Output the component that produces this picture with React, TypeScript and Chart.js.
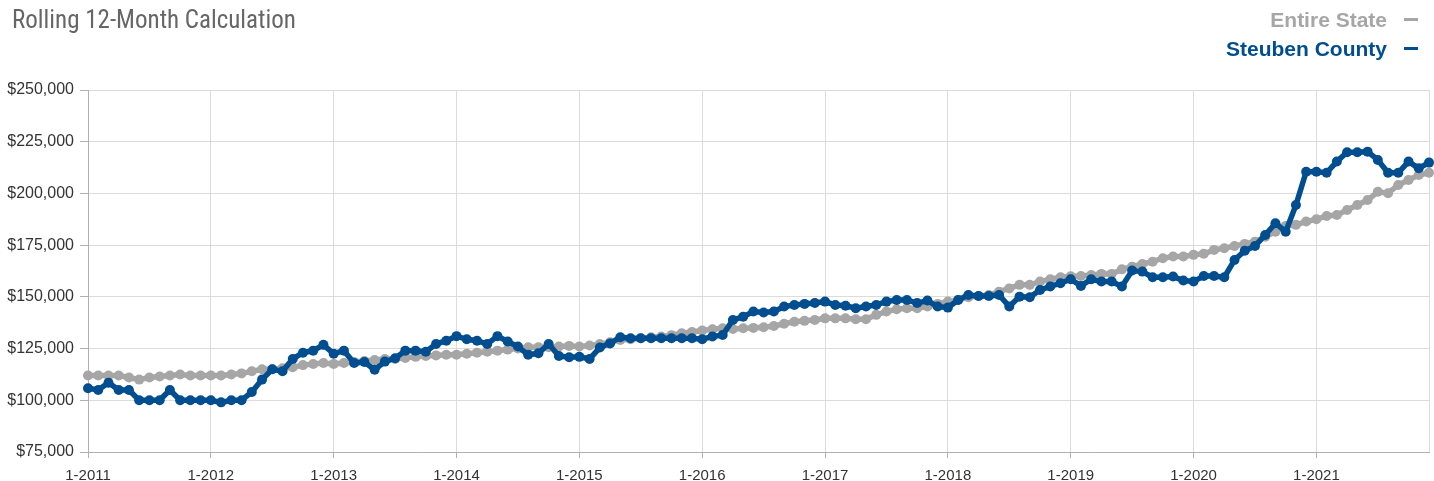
import React, { useEffect, useRef } from "react";
import { Chart, registerables } from "chart.js";

Chart.register(...registerables);

// ---- data ----
const YEARS = [2011, 2012, 2013, 2014, 2015, 2016, 2017, 2018, 2019, 2020, 2021];
const MONTHS = [1, 2, 3, 4, 5, 6, 7, 8, 9, 10, 11, 12];
const categories: string[] = YEARS.flatMap((y) => MONTHS.map((m) => `${m}-${y}`));

const entireState = [
  112000, 112000, 112000, 112000, 111000, 110000, 111000, 111500, 112000, 112500, 112000, 112000,
  112000, 112000, 112500, 113000, 114000, 115000, 115000, 115500, 116000, 117000, 117500, 118000,
  117600, 118000, 118500, 119000, 119500, 120000, 120000, 120500, 121000, 121400, 121700, 122000,
  122000, 122500, 123000, 123500, 124000, 124500, 125000, 125600, 125600, 125600, 126000, 126300,
  126000, 126500, 127200, 128000, 129200, 129500, 130000, 130500, 130800, 131500, 132400, 133000,
  133700, 134300, 134800, 134500, 134800, 135000, 135300, 135900, 137000, 138000, 138400, 138800,
  139600, 139600, 139600, 139200, 139200, 141300, 142900, 144000, 144500, 144500, 145300, 146600,
  147700, 148500, 149800, 150400, 150900, 152500, 154100, 155800, 155800, 157400, 158500, 159500,
  160000, 160100, 160600, 161100, 161100, 163300, 164600, 165900, 167000, 168700, 169500, 169500,
  170300, 170800, 172700, 173500, 174600, 175600, 176700, 179100, 181500, 184300, 184800, 186400,
  187500, 189100, 189600, 192000, 194400, 196800, 200800, 200100, 204100, 206500, 208900, 210000,
];

const steubenCounty = [
  105800, 105000, 108500, 105000, 105000, 100000, 100000, 100000, 105000, 100000, 100000, 100000,
  100000, 99000, 100000, 100000, 104000, 110000, 115000, 114000, 120000, 123000, 124000, 126800,
  122500, 124000, 118000, 118500, 114800, 118700, 120300, 124000, 124000, 123500, 127200, 128800,
  131000, 129500, 128800, 127200, 131000, 128400, 126000, 122000, 122700, 127200, 121400, 120800,
  121000, 120000, 125500, 127500, 130500, 130000, 130000, 130000, 130000, 130000, 130000, 130000,
  129500, 130800, 131600, 138800, 140400, 142900, 142400, 142900, 145300, 146100, 146600, 147000,
  147700, 146100, 145700, 144500, 145300, 146100, 147700, 148500, 148500, 147000, 148200, 145300,
  144800, 148500, 150900, 150400, 150400, 150900, 145300, 150100, 149800, 153300, 155000, 156600,
  158500, 155300, 158500, 157400, 157400, 155000, 162700, 162200, 159500, 159500, 159800, 157900,
  157400, 160100, 160100, 159500, 167800, 172300, 174600, 179900, 185600, 181500, 194400, 210500,
  210500, 210000, 215400, 219900, 219900, 220200, 216200, 210000, 210000, 215400, 212200, 214900,
];

const seriesNames = ["Entire State", "Steuben County"];
const yMin = 75000;
const yMax = 250000;
const yStep = 25000;
const chartTitle = "Rolling 12-Month Calculation";

// ---- styles ----
const GREY = "#a6a6a6";
const BLUE = "#004e8f";
const FONT = "'Liberation Sans', Arial, Helvetica, sans-serif";

const rightBorder = {
  id: "rightBorder",
  beforeDatasetsDraw(c: any) {
    const { ctx, chartArea: a } = c;
    ctx.save();
    ctx.strokeStyle = "#dcdcdc";
    ctx.lineWidth = 1;
    ctx.beginPath();
    ctx.moveTo(Math.round(a.right) + 0.5, a.top);
    ctx.lineTo(Math.round(a.right) + 0.5, a.bottom);
    ctx.stroke();
    ctx.restore();
  },
};

export default function App() {
  const ref = useRef<HTMLCanvasElement>(null);

  useEffect(() => {
    if (!ref.current) return;
    const chart = new Chart(ref.current, {
      type: "line",
      data: {
        labels: categories,
        datasets: [
          {
            label: seriesNames[0],
            data: entireState,
            borderColor: GREY,
            backgroundColor: GREY,
            pointBackgroundColor: GREY,
            pointBorderColor: GREY,
            borderWidth: 5.5,
            pointRadius: 5,
            pointBorderWidth: 0,
            tension: 0,
            order: 2,
          },
          {
            label: seriesNames[1],
            data: steubenCounty,
            borderColor: BLUE,
            backgroundColor: BLUE,
            pointBackgroundColor: BLUE,
            pointBorderColor: BLUE,
            borderWidth: 5.5,
            pointRadius: 5,
            pointBorderWidth: 0,
            tension: 0,
            order: 1,
          },
        ],
      },
      options: {
        responsive: false,
        animation: false,
        devicePixelRatio: 1,
        layout: { padding: { top: 90, right: 4, left: 0, bottom: 0 } },
        plugins: {
          legend: { display: false },
          title: { display: false },
          tooltip: { enabled: false },
        },
        scales: {
          x: {
            grid: { color: "#dcdcdc", tickLength: 6, tickColor: "#b0b0b0" },
            border: { color: "#b0b0b0" },
            ticks: {
              autoSkip: false,
              maxRotation: 0,
              color: "#333",
              padding: 9,
              font: { family: FONT, size: 15 },
              callback: (_v: any, i: number) => {
                const l = categories[i];
                return l.startsWith("1-") ? l : null;
              },
            },
            afterFit: (s: any) => {
              s.height = 29;
            },
          },
          y: {
            min: yMin,
            max: yMax,
            grid: { color: "#dcdcdc", tickLength: 8, tickColor: "#b0b0b0" },
            border: { color: "#b0b0b0" },
            ticks: {
              stepSize: yStep,
              color: "#333",
              padding: 6,
              font: { family: FONT, size: 16 },
              callback: (v: any) => "$" + Number(v).toLocaleString("en-US"),
            },
            afterFit: (s: any) => {
              s.width = 88;
            },
          },
        },
      },
      plugins: [rightBorder],
    });
    return () => chart.destroy();
  }, []);

  const legendRow = (text: string, color: string) => (
    <div
      key={text}
      style={{
        display: "flex",
        alignItems: "center",
        justifyContent: "flex-end",
        height: 29,
        lineHeight: "29px",
      }}
    >
      <span style={{ color, fontWeight: "bold", fontSize: 21, fontFamily: FONT }}>{text}</span>
      <span
        style={{
          display: "inline-block",
          width: 14,
          height: 3,
          background: color,
          marginLeft: 17,
        }}
      />
    </div>
  );

  return (
    <div style={{ position: "absolute", left: 0, top: 0, width: 1434, height: 481 }}>
      <canvas ref={ref} width={1434} height={481} style={{ position: "absolute", left: 0, top: 0 }} />
      <div
        style={{
          position: "absolute",
          left: 12,
          top: 7,
          fontFamily: "'Liberation Sans Narrow', 'Roboto Condensed', Roboto, sans-serif",
          fontSize: 25,
          lineHeight: "25px",
          color: "#666",
          whiteSpace: "nowrap",
        }}
      >
        {chartTitle}
      </div>
      <div style={{ position: "absolute", right: 16, top: 5 }}>
        {legendRow(seriesNames[0], GREY)}
        {legendRow(seriesNames[1], BLUE)}
      </div>
    </div>
  );
}
